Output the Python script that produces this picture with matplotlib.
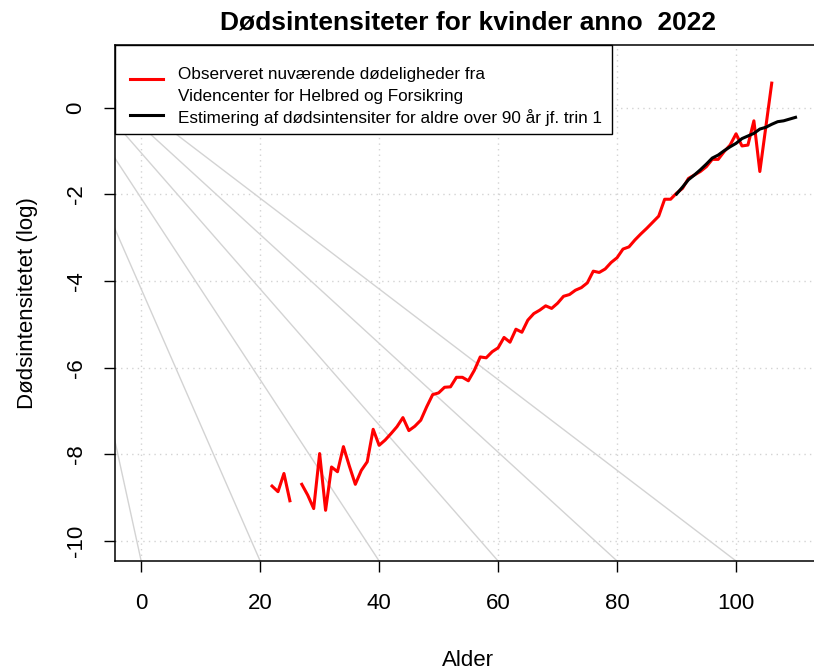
import numpy as np
import matplotlib
matplotlib.use("Agg")
import matplotlib.pyplot as plt
from matplotlib.patches import Rectangle
from matplotlib.lines import Line2D

plt.rcParams["font.family"] = ["Liberation Sans", "DejaVu Sans"]
plt.rcParams["axes.unicode_minus"] = False

# observerede log-dødsintensiteter (alder 26 mangler)
ages_obs = np.arange(22, 107)
log_mu_obs = [
    -8.73, -8.86, -8.44, -9.07, np.nan, -8.69, -8.94, -9.25, -7.98, -9.29,
    -8.29, -8.40, -7.82, -8.27, -8.69, -8.37, -8.17, -7.42, -7.79, -7.67,
    -7.52, -7.36, -7.15, -7.45, -7.35, -7.21, -6.90, -6.62, -6.58, -6.45,
    -6.44, -6.22, -6.22, -6.30, -6.06, -5.75, -5.77, -5.63, -5.54, -5.30,
    -5.41, -5.11, -5.18, -4.90, -4.75, -4.67, -4.57, -4.63, -4.51, -4.35,
    -4.31, -4.21, -4.15, -4.04, -3.77, -3.80, -3.72, -3.57, -3.46, -3.26,
    -3.21, -3.05, -2.91, -2.78, -2.64, -2.50, -2.11, -2.11, -1.97, -1.86,
    -1.63, -1.55, -1.47, -1.36, -1.19, -1.19, -1.01, -0.86, -0.60, -0.88,
    -0.86, -0.30, -1.47, -0.45, 0.57,
]

# estimeret kurve for aldre over 90
ages_est = np.arange(90, 111)
log_mu_est = [
    -1.99, -1.83, -1.66, -1.55, -1.43, -1.30, -1.16, -1.09, -0.99, -0.90,
    -0.82, -0.71, -0.65, -0.59, -0.49, -0.45, -0.38, -0.32, -0.30, -0.26,
    -0.22,
]

# grå hjælpelinjer: fra et fælles punkt ned til aldrene nedenfor
ref_end_ages = [0, 20, 40, 60, 80, 100]
ref_apex = (-20.0, 2.1)

x_ticks = [0, 20, 40, 60, 80, 100]
y_ticks = [0, -2, -4, -6, -8, -10]
xlim = (-4.4, 114.4)
ylim = (-10.46, 1.45)

label_obs = "Observeret nuværende dødeligheder fra\nVidencenter for Helbred og Forsikring"
label_est = "Estimering af dødsintensiter for aldre over 90 år jf. trin 1"

W, H = 814, 672
fig = plt.figure(figsize=(W / 100, H / 100), dpi=100)
ax = fig.add_axes([115 / W, 1 - 561 / H, 706.7 / W, 516 / H])


def fpx(x, y):
    # pixel (fra øverste venstre hjørne) -> figurbrøk
    return x / W, 1 - y / H


for xv in x_ticks:
    ax.axvline(xv, color="lightgray", ls=(0, (1, 3)), lw=1, zorder=1)
for yv in y_ticks:
    ax.axhline(yv, color="lightgray", ls=(0, (1, 3)), lw=1, zorder=1)

for xe in ref_end_ages:
    ax.plot([ref_apex[0], xe], [ref_apex[1], ylim[0]], color="lightgray", lw=1, zorder=2)

ax.plot(ages_obs, log_mu_obs, color="red", lw=2.2, zorder=3)
ax.plot(ages_est, log_mu_est, color="black", lw=2.2, zorder=4)

ax.set_xlim(*xlim)
ax.set_ylim(*ylim)
ax.set_xticks(x_ticks)
ax.set_xticklabels([str(v) for v in x_ticks])
ax.set_yticks(y_ticks)
ax.set_yticklabels([str(v) for v in y_ticks], rotation=90, va="center")
ax.tick_params(labelsize=16, length=8, width=1)
ax.tick_params(axis="x", pad=15)
ax.tick_params(axis="y", pad=12.5)
for sp in ax.spines.values():
    sp.set_linewidth(1.1)

ax.set_xlabel("Alder", fontsize=16, labelpad=26)
ax.set_ylabel("Dødsintensitetet (log)", fontsize=16, labelpad=20)
ax.set_title("Dødsintensiteter for kvinder anno  2022", fontsize=19,
             fontweight="bold", pad=11)

# forklaring (R-agtig legend-boks)
x0, y0 = fpx(115, 134.3)
x1, y1 = fpx(611.7, 45)
fig.add_artist(Rectangle((x0, y0), x1 - x0, y1 - y0, transform=fig.transFigure,
                         facecolor="white", edgecolor="black", lw=1.0, zorder=5))
for color, yl in [("red", 79.3), ("black", 115)]:
    xa, ya = fpx(130, yl)
    xb, _ = fpx(162.7, yl)
    fig.add_artist(Line2D([xa, xb], [ya, ya], transform=fig.transFigure,
                          color=color, lw=2.2, zorder=6))
for txt, yb in zip(label_obs.split("\n") + [label_est], [78.5, 101, 123.5]):
    tx, ty = fpx(178, yb)
    fig.text(tx, ty, txt, fontsize=12.3, va="baseline", ha="left", zorder=6)

fig.savefig("out.png", dpi=100)
